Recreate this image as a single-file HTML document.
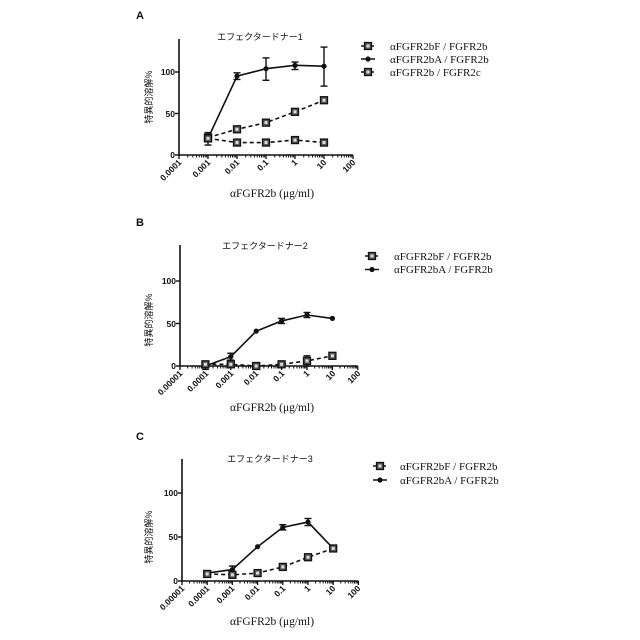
<!DOCTYPE html>
<html><head><meta charset="utf-8"><style>
body{margin:0;background:#fff}
svg{display:block}
.t{font-family:"Liberation Sans","Noto Sans CJK JP",sans-serif;font-size:9px;fill:#111}
.tk{font-family:"Liberation Sans",sans-serif;font-size:8.5px;font-weight:bold;fill:#111}
.lg{font-family:"Liberation Serif",serif;font-size:11px;fill:#111}
.xl{font-family:"Liberation Serif",serif;font-size:11.5px;fill:#111}
.pl{font-family:"Liberation Sans",sans-serif;font-size:11px;font-weight:bold;fill:#111}
</style></head><body>
<svg id="s" width="640" height="640" viewBox="0 0 640 640" xmlns="http://www.w3.org/2000/svg">
<rect width="640" height="640" fill="#fff"/>
<!-- Panel A -->
<text class="pl" x="136" y="19">A</text>
<text class="t" x="260" y="40" text-anchor="middle">エフェクタードナー1</text>
<text class="tk" x="175" y="158" text-anchor="end">0</text>
<text class="tk" x="175" y="117" text-anchor="end">50</text>
<text class="tk" x="175" y="75" text-anchor="end">100</text>
<text class="t" transform="translate(152,97) rotate(-90)" text-anchor="middle">特異的溶解%</text>
<g class="tk" text-anchor="end">
<text transform="translate(182,163) rotate(-45)">0.0001</text>
<text transform="translate(211,163) rotate(-45)">0.001</text>
<text transform="translate(240,163) rotate(-45)">0.01</text>
<text transform="translate(269,163) rotate(-45)">0.1</text>
<text transform="translate(298,163) rotate(-45)">1</text>
<text transform="translate(327,163) rotate(-45)">10</text>
<text transform="translate(356,163) rotate(-45)">100</text>
</g>
<text class="xl" x="272" y="197" text-anchor="middle">αFGFR2b (μg/ml)</text>
<text class="lg" x="390" y="50">αFGFR2bF / FGFR2b</text>
<text class="lg" x="390" y="63">αFGFR2bA / FGFR2b</text>
<text class="lg" x="390" y="76">αFGFR2b / FGFR2c</text>
<!-- Panel B -->
<text class="pl" x="136" y="226">B</text>
<text class="t" x="265" y="249" text-anchor="middle">エフェクタードナー2</text>
<text class="tk" x="176" y="369" text-anchor="end">0</text>
<text class="tk" x="176" y="327" text-anchor="end">50</text>
<text class="tk" x="176" y="284" text-anchor="end">100</text>
<text class="t" transform="translate(152,320) rotate(-90)" text-anchor="middle">特異的溶解%</text>
<g class="tk" text-anchor="end">
<text transform="translate(183,374) rotate(-45)">0.00001</text>
<text transform="translate(209,374) rotate(-45)">0.0001</text>
<text transform="translate(234,374) rotate(-45)">0.001</text>
<text transform="translate(259,374) rotate(-45)">0.01</text>
<text transform="translate(285,374) rotate(-45)">0.1</text>
<text transform="translate(310,374) rotate(-45)">1</text>
<text transform="translate(336,374) rotate(-45)">10</text>
<text transform="translate(361,374) rotate(-45)">100</text>
</g>
<text class="xl" x="272" y="411" text-anchor="middle">αFGFR2b (μg/ml)</text>
<text class="lg" x="394" y="260">αFGFR2bF / FGFR2b</text>
<text class="lg" x="394" y="273">αFGFR2bA / FGFR2b</text>
<!-- Panel C -->
<text class="pl" x="136" y="440">C</text>
<text class="t" x="270" y="462" text-anchor="middle">エフェクタードナー3</text>
<text class="tk" x="178" y="584" text-anchor="end">0</text>
<text class="tk" x="178" y="540" text-anchor="end">50</text>
<text class="tk" x="178" y="496" text-anchor="end">100</text>
<text class="t" transform="translate(152,537) rotate(-90)" text-anchor="middle">特異的溶解%</text>
<g class="tk" text-anchor="end">
<text transform="translate(185,589) rotate(-45)">0.00001</text>
<text transform="translate(210,589) rotate(-45)">0.0001</text>
<text transform="translate(235,589) rotate(-45)">0.001</text>
<text transform="translate(260,589) rotate(-45)">0.01</text>
<text transform="translate(286,589) rotate(-45)">0.1</text>
<text transform="translate(311,589) rotate(-45)">1</text>
<text transform="translate(336,589) rotate(-45)">10</text>
<text transform="translate(361,589) rotate(-45)">100</text>
</g>
<text class="xl" x="272" y="625" text-anchor="middle">αFGFR2b (μg/ml)</text>
<text class="lg" x="400" y="470">αFGFR2bF / FGFR2b</text>
<text class="lg" x="400" y="484">αFGFR2bA / FGFR2b</text>
<g id="g"></g>
</svg>
<script>
const NS="http://www.w3.org/2000/svg",g=document.getElementById("g");
function el(t,a){const e=document.createElementNS(NS,t);for(const k in a)e.setAttribute(k,a[k]);g.appendChild(e);return e;}
function sq(x,y){el("rect",{x:x-3.5,y:y-3.5,width:7,height:7,fill:"#555",stroke:"#111","stroke-width":1.3});el("rect",{x:x-1.5,y:y-1.5,width:3,height:3,fill:"#ddd"});}
function dot(x,y){el("circle",{cx:x,cy:y,r:2.6,fill:"#111"});}
function panel(P){
 const X=d=>P.x0+(d-P.d0)*P.dw, Y=v=>P.y0-v*P.sy;
 el("line",{x1:P.x0,y1:P.top,x2:P.x0,y2:P.y0+1,stroke:"#111","stroke-width":1.6});
 el("line",{x1:P.x0,y1:P.y0,x2:X(P.d0+P.n),y2:P.y0,stroke:"#111","stroke-width":1.6});
 [0,50,100].forEach(v=>el("line",{x1:P.x0-4,y1:Y(v),x2:P.x0,y2:Y(v),stroke:"#111","stroke-width":1.4}));
 for(let i=0;i<=P.n;i++){const x=X(P.d0+i);el("line",{x1:x,y1:P.y0,x2:x,y2:P.y0+4,stroke:"#111","stroke-width":1.3});
  if(i<P.n)for(let k=2;k<10;k++){const xx=x+Math.log10(k)*P.dw;el("line",{x1:xx,y1:P.y0,x2:xx,y2:P.y0+2.5,stroke:"#111","stroke-width":1});}}
 P.s.forEach(s=>{
  const pts=s.d.map(p=>[X(p[0]),Y(p[1])]);
  el("polyline",{points:pts.map(p=>p.join(",")).join(" "),fill:"none",stroke:"#111","stroke-width":1.6,"stroke-dasharray":s.dash?"4,3":"none"});
  s.d.forEach((p,i)=>{if(p[2]!=null){const x=pts[i][0];el("line",{x1:x,y1:Y(p[2]),x2:x,y2:Y(p[3]),stroke:"#111","stroke-width":1.4});
   [p[2],p[3]].forEach(v=>el("line",{x1:x-3.5,y1:Y(v),x2:x+3.5,y2:Y(v),stroke:"#111","stroke-width":1.4}));}
   s.dash?sq(pts[i][0],pts[i][1]):dot(pts[i][0],pts[i][1]);});
 });
 P.lg.forEach((l,i)=>{const y=P.ly+i*P.lh;el("line",{x1:P.lx-7,y1:y,x2:P.lx+7,y2:y,stroke:"#111","stroke-width":1.5,"stroke-dasharray":l?"3,2":"none"});l?sq(P.lx,y):dot(P.lx,y);});
}
panel({x0:179,d0:-4,dw:29,n:6,y0:155,sy:0.83,top:39,lx:368,ly:46,lh:13,lg:[1,0,1],s:[
 {d:[[-3,20,12,27],[-2,95,91,99],[-1,104,90,117],[0,108,103,112],[1,107,83,130]]},
 {dash:1,d:[[-3,21],[-2,31],[-1,39],[0,52],[1,66]]},
 {dash:1,d:[[-3,20],[-2,15],[-1,15],[0,18],[1,15]]}]});
panel({x0:180,d0:-5,dw:25.4,n:7,y0:366,sy:0.85,top:245,lx:372,ly:256,lh:13.5,lg:[1,0],s:[
 {d:[[-4,0,-4,5],[-3,11,7,15],[-2,41],[-1,53,50,56],[0,60,57,63],[1,56]]},
 {dash:1,d:[[-4,2],[-3,2],[-2,0],[-1,2],[0,6,0,12],[1,12,8,15]]}]});
panel({x0:182,d0:-5,dw:25.2,n:7,y0:581,sy:0.88,top:459,lx:380,ly:466,lh:14,lg:[1,0],s:[
 {d:[[-4,9],[-3,13,9,17],[-2,39],[-1,61,58,64],[0,67,63,71],[1,37]]},
 {dash:1,d:[[-4,8],[-3,7],[-2,9],[-1,16],[0,27],[1,37]]}]});
</script>
</body></html>
